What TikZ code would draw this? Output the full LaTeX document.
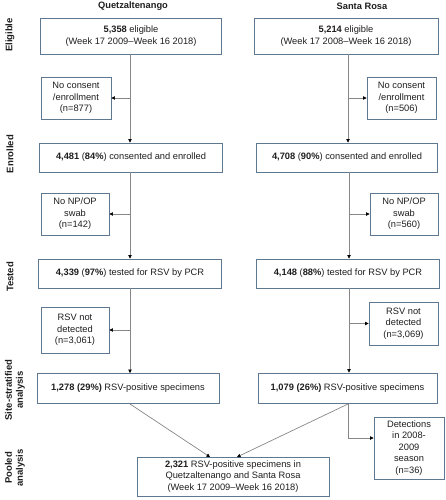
\documentclass[tikz,border=0pt]{standalone}
\usepackage{fontspec}
\setmainfont{Liberation Sans}
\usetikzlibrary{arrows.meta}
\definecolor{boxc}{RGB}{95,120,145}
\definecolor{linec}{RGB}{135,135,135}
\definecolor{txt}{RGB}{30,30,30}
\tikzset{
  box/.style={draw=boxc, line width=0.9pt, inner sep=0pt, align=center, text=txt,
    font=\fontsize{9.3}{11.5}\selectfont},
  conn/.style={draw=linec, line width=0.7pt, -{Triangle[length=3.5pt,width=3.5pt,fill=black,color=black]}},
  plain/.style={draw=linec, line width=0.7pt},
  rowlab/.style={rotate=90, font=\fontsize{9.5}{11}\selectfont\bfseries, align=center, text=txt},
  head/.style={font=\fontsize{9.3}{11}\selectfont\bfseries, text=txt}
}
\begin{document}
\begin{tikzpicture}[x=1pt,y=-1pt]
\useasboundingbox (0,0) rectangle (445,500);
% headers
\node[head] (hq) at (133,6) {Quetzaltenango};
\node[head] (hs) at (362,6) {Santa Rosa};
% row labels
\node[rowlab] (r1) at (10,35) {Eligible};
\node[rowlab] (r2) at (10,154) {Enrolled};
\node[rowlab] (r3) at (10,277) {Tested};
\node[rowlab] (r4) at (15,390) {Site-stratified\\analysis};
\node[rowlab] (r5) at (15,468) {Pooled\\analysis};
% main boxes
\node[box, minimum width=181pt, minimum height=36pt] (e1) at (131,36) {\textbf{5,358} eligible\\(Week 17 2009--Week 16 2018)};
\node[box, minimum width=184pt, minimum height=36pt] (e2) at (346,36) {\textbf{5,214} eligible\\(Week 17 2008--Week 16 2018)};
\node[box, minimum width=183pt, minimum height=29pt] (n1) at (131,157.5) {\textbf{4,481} (\textbf{84\%}) consented and enrolled};
\node[box, minimum width=181pt, minimum height=29pt] (n2) at (347,157.5) {\textbf{4,708} (\textbf{90\%}) consented and enrolled};
\node[box, minimum width=183pt, minimum height=29pt] (t1) at (130,273.5) {\textbf{4,339} (\textbf{97\%}) tested for RSV by PCR};
\node[box, minimum width=183pt, minimum height=29pt] (t2) at (348,273.5) {\textbf{4,148} (\textbf{88\%}) tested for RSV by PCR};
\node[box, minimum width=182pt, minimum height=30pt] (s1) at (128,388.5) {\textbf{1,278 (29\%)} RSV-positive specimens};
\node[box, minimum width=179pt, minimum height=30pt] (s2) at (347.5,388) {\textbf{1,079 (26\%)} RSV-positive specimens};
\node[box, minimum width=192pt, minimum height=39pt] (p) at (233,476.5) {\textbf{2,321} RSV-positive specimens in\\Quetzaltenango and Santa Rosa\\(Week 17 2009--Week 16 2018)};
% side boxes
\node[box, minimum width=70pt, minimum height=42pt] (x1) at (76,98) {No consent\\/enrollment\\(n=877)};
\node[box, minimum width=69pt, minimum height=42pt] (x2) at (401.5,98) {No consent\\/enrollment\\(n=506)};
\node[box, minimum width=68pt, minimum height=42pt] (y1) at (75,214) {No NP/OP\\swab\\(n=142)};
\node[box, minimum width=68pt, minimum height=42pt] (y2) at (404,214) {No NP/OP\\swab\\(n=560)};
\node[box, minimum width=68pt, minimum height=46pt] (z1) at (75,330) {RSV not\\detected\\(n=3,061)};
\node[box, minimum width=69pt, minimum height=43pt] (z2) at (403.5,323.5) {RSV not\\detected\\(n=3,069)};
\node[box, minimum width=70pt, minimum height=62pt] (d) at (409,448) {Detections\\in 2008-\\2009\\season\\(n=36)};
% coordinates on vertical lines
\coordinate (a1) at (130,54);
\coordinate (a2) at (348,54);
\coordinate (b1) at (130,172);
\coordinate (b2) at (349,172);
\coordinate (c1) at (130,288);
\coordinate (c2) at (349,288);
\coordinate (q1) at (130,404);
\coordinate (q2) at (348,404);
\coordinate (qt1) at (210,457);
\coordinate (qt2) at (237,457);
\coordinate (dk) at (348,438);
% vertical connectors
\draw[conn] (a1) -- (a1 |- n1.north);
\draw[conn] (a2) -- (a2 |- n2.north);
\draw[conn] (b1) -- (b1 |- t1.north);
\draw[conn] (b2) -- (b2 |- t2.north);
\draw[conn] (c1) -- (c1 |- s1.north);
\draw[conn] (c2) -- (c2 |- s2.north);
% side connectors
\draw[conn] (a1 |- x1.east) -- (x1.east);
\draw[conn] (a2 |- x2.west) -- (x2.west);
\draw[conn] (b1 |- y1.east) -- (y1.east);
\draw[conn] (b2 |- y2.west) -- (y2.west);
\draw[conn] (c1 |- z1.east) -- (z1.east);
\draw[conn] (c2 |- z2.west) -- (z2.west);
% pooled
\draw[conn] (q1) -- (qt1);
\draw[conn] (q2) -- (qt2);
\draw[conn] (q2) -- (dk) -- (dk -| d.west);
\end{tikzpicture}
\end{document}
